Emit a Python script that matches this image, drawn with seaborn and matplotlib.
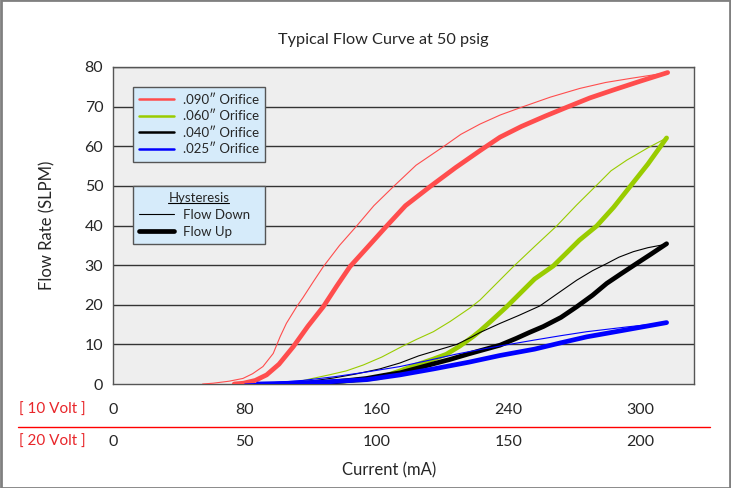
import numpy as np
import pandas as pd
import matplotlib
matplotlib.use("Agg")
import matplotlib.pyplot as plt
import seaborn as sns
from matplotlib.lines import Line2D
from matplotlib.patches import Rectangle

# Current in the 20 Volt scale (axis units), flow rate in SLPM
red_down_x = [34, 38, 44, 49.3, 53, 56.9, 60.8, 63.4, 65.8, 69.7, 72.1, 76, 79.8, 86, 92.5, 99, 106.4, 115, 125.4, 132, 139.3, 147, 155.7, 166, 177.2, 187, 196.2, 204, 210.5]
red_down_y = [0, 0.2, 0.7, 1.4, 2.6, 4.4, 7.7, 11.9, 15.3, 19.5, 21.8, 25.8, 29.6, 35, 39.9, 45, 49.8, 55.2, 59.9, 63, 65.6, 67.9, 70, 72.4, 74.6, 76.1, 77.1, 77.9, 78.6]
red_up_x = [46, 49.5, 54, 58.3, 63, 68.4, 74, 79.8, 85, 89.9, 96.3, 103.9, 111, 120.3, 130, 139.3, 146.9, 155, 164, 172.8, 181, 189.9, 200, 210.5]
red_up_y = [0, 0.2, 0.9, 2.3, 5, 9.4, 14.6, 19.5, 24.8, 29.6, 34.3, 39.9, 45, 49.8, 54.6, 58.9, 62.3, 65, 67.6, 70, 72.2, 74.2, 76.4, 78.6]

green_down_x = [63, 68.3, 75, 82, 88.5, 95, 102, 108.9, 115, 121.6, 128, 135.5, 139.3, 145, 151.9, 160, 168.4, 176, 183.6, 189, 195, 203, 210.1]
green_down_y = [0, 0.3, 1.3, 2.3, 3.3, 4.8, 6.8, 9.2, 11.2, 13.2, 15.8, 19.2, 21.2, 25, 29.6, 34.7, 39.9, 45.2, 50.2, 53.8, 56.5, 59.6, 62.1]
green_up_x = [68, 75, 85, 95, 101.2, 108.9, 115, 121.6, 126.5, 131.7, 136.7, 139.3, 144, 149.4, 155, 160, 167.1, 172, 177, 183.6, 190, 196.2, 203, 210.1]
green_up_y = [0, 0.2, 0.6, 1.1, 1.6, 3.3, 4.8, 6.3, 7.5, 9.6, 12, 13.4, 16.2, 19.5, 23.2, 26.5, 29.8, 33, 36.3, 39.9, 44.6, 49.8, 55.5, 62.1]

black_down_x = [62, 70, 78, 83.6, 92, 101.2, 108.9, 116, 124, 130.5, 136, 139.3, 146.9, 154, 162, 168, 176, 182, 187.4, 192, 197.5, 203, 210.1]
black_down_y = [0, 0.4, 1, 1.5, 2.5, 3.8, 5.3, 7.1, 8.7, 10, 11.8, 13, 15.3, 17.3, 19.7, 22.5, 26.2, 28.6, 30.4, 32, 33.4, 34.4, 35.3]
black_up_x = [72, 80, 88, 96.3, 103, 108.9, 115, 121.6, 127.9, 135, 139.3, 146.9, 153, 158, 163.3, 170, 176, 182, 187.4, 193, 198.7, 204, 210.1]
black_up_y = [0, 0.3, 0.8, 1.4, 2.2, 2.8, 3.9, 5.1, 6.2, 7.6, 8.4, 9.8, 11.5, 13, 14.5, 16.8, 19.5, 22.4, 25.4, 27.9, 30.4, 32.7, 35.4]

blue_down_x = [50, 60, 72, 83.6, 96, 108.9, 120, 130, 139.3, 146.9, 160, 170, 179.8, 195, 210.1]
blue_down_y = [0, 0.3, 0.9, 1.8, 3, 4.4, 6, 7.5, 8.7, 9.6, 11.1, 12.2, 13.2, 14.4, 15.5]
blue_up_x = [55, 68, 80, 96.3, 108.9, 121.6, 135, 146.9, 160, 170, 179.8, 195, 210.1]
blue_up_y = [0, 0.2, 0.5, 1.1, 2.3, 3.8, 5.5, 7.2, 8.8, 10.4, 11.9, 13.7, 15.5]

orifices = ['.090\u2033 Orifice', '.060\u2033 Orifice', '.040\u2033 Orifice', '.025\u2033 Orifice']
colors = ['#ff4d4d', '#99cc00', '#000000', '#0000ff']

ticks_20v = [0, 50, 100, 150, 200]
labels_10v = ['0', '80', '160', '240', '300']
labels_20v = ['0', '50', '100', '150', '200']

# Build one long table for seaborn
series = [
    (orifices[0], 'Flow Down', red_down_x, red_down_y),
    (orifices[0], 'Flow Up', red_up_x, red_up_y),
    (orifices[1], 'Flow Down', green_down_x, green_down_y),
    (orifices[1], 'Flow Up', green_up_x, green_up_y),
    (orifices[2], 'Flow Down', black_down_x, black_down_y),
    (orifices[2], 'Flow Up', black_up_x, black_up_y),
    (orifices[3], 'Flow Down', blue_down_x, blue_down_y),
    (orifices[3], 'Flow Up', blue_up_x, blue_up_y),
]
frames = []
for name, direction, xs, ys in series:
    frames.append(pd.DataFrame({'current': xs, 'flow': ys, 'orifice': name, 'direction': direction}))
df = pd.concat(frames, ignore_index=True)

sns.set_style("white")
plt.rcParams['font.family'] = ['Lato', 'DejaVu Sans']

fig = plt.figure(figsize=(7.31, 4.88), dpi=100)
ax = fig.add_axes([113 / 731, 1 - 384 / 488, 581 / 731, 317 / 488])
ax.set_facecolor('#eeeeee')

# Grid first so the curves sit on top
ax.set_ylim(0, 80)
ax.set_xlim(0, 220.5)
ax.set_yticks(range(0, 81, 10))
for yv in range(10, 81, 10):
    ax.axhline(yv, color='#333333', lw=1.0, zorder=1)

sns.lineplot(data=df, x='current', y='flow', hue='orifice', size='direction',
             hue_order=orifices, palette=colors,
             sizes={'Flow Down': 0.8, 'Flow Up': 3.4},
             size_order=['Flow Down', 'Flow Up'],
             estimator=None, sort=False, legend=False, ax=ax, zorder=3)
for line in ax.lines:
    line.set_solid_capstyle('round')
    line.set_solid_joinstyle('round')

ax.set_xlabel('')
ax.set_ylabel('')
for s in ax.spines.values():
    s.set_color('#555555')
    s.set_linewidth(1.0)

ax.tick_params(axis='y', direction='out', length=4, width=1, color='#555555',
               labelsize=11.5, pad=3)
ax.set_xticks(ticks_20v)
ax.set_xticklabels([''] * len(ticks_20v))
ax.tick_params(axis='x', direction='out', length=4, width=1, color='#555555')

# Two rows of current tick labels
trans = ax.get_xaxis_transform()
for xv, l1, l2 in zip(ticks_20v, labels_10v, labels_20v):
    ax.text(xv, -0.082, l1, transform=trans, ha='center', va='center', fontsize=11.5)
    ax.text(xv, -0.182, l2, transform=trans, ha='center', va='center', fontsize=11.5)
fig.text(18.6 / 731, 1 - 410 / 488, '[ 10 Volt ]', color='#e8262a', ha='left', va='center', fontsize=11)
fig.text(18.6 / 731, 1 - 441.7 / 488, '[ 20 Volt ]', color='#e8262a', ha='left', va='center', fontsize=11)
fig.add_artist(Line2D([17.7 / 731, 709.6 / 731], [1 - 426.7 / 488] * 2, color='#ff0000', lw=1.0))

fig.text(389 / 731, 1 - 470 / 488, 'Current (mA)', ha='center', va='center', fontsize=12)
fig.text(47 / 731, 1 - 225 / 488, 'Flow Rate (SLPM)', ha='center', va='center', rotation=90, fontsize=12)
fig.text(383.5 / 731, 1 - 40 / 488, 'Typical Flow Curve at 50 psig', ha='center', va='center', fontsize=11.7)

# Orifice legend
handles1 = [Line2D([0], [0], color=c, lw=1.8) for c in colors]
leg1 = ax.legend(handles1, orifices, loc='upper left', bbox_to_anchor=(0.034, 0.688, 0.228, 0.249),
                 mode='expand', borderaxespad=0, frameon=True, fancybox=False, fontsize=9.5,
                 handlelength=2.65, handletextpad=0.65, labelspacing=0.35,
                 borderpad=0.5, facecolor='#d6ebfa', edgecolor='#555555', framealpha=1)
leg1.get_frame().set_linewidth(1.0)
ax.add_artist(leg1)

# Hysteresis legend
handles2 = [Line2D([0], [0], color='black', lw=0.8), Line2D([0], [0], color='black', lw=3.4)]
leg2 = ax.legend(handles2, ['Flow Down', 'Flow Up'], loc='upper left', bbox_to_anchor=(0.034, 0.41, 0.228, 0.215),
                 mode='expand', borderaxespad=0, frameon=True, fancybox=False, fontsize=9.5,
                 title='Hysteresis', title_fontsize=9.5,
                 handlelength=2.65, handletextpad=0.65, labelspacing=0.35,
                 borderpad=0.5, facecolor='#d6ebfa', edgecolor='#555555', framealpha=1)
leg2.get_frame().set_linewidth(1.0)
leg2.set_zorder(5)
leg1.set_zorder(5)

# underline the hysteresis title
fig.canvas.draw()
bb = leg2.get_title().get_window_extent().transformed(fig.transFigure.inverted())
fig.add_artist(Line2D([bb.x0, bb.x1], [bb.y0 + 0.002] * 2, color='black', lw=0.8))

# outer border
fig.add_artist(Rectangle((0.001, 0.001), 0.998, 0.998, transform=fig.transFigure,
                         fill=False, edgecolor='#808080', lw=2))

fig.savefig('out.png', dpi=100)
